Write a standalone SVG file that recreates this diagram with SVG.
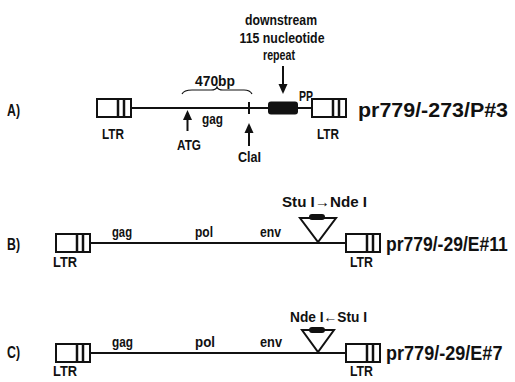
<svg xmlns="http://www.w3.org/2000/svg" width="515" height="382" viewBox="0 0 515 382">
<defs>
<style>
text{font-family:"Liberation Sans","DejaVu Sans",sans-serif;font-weight:bold;fill:#111}
.s{font-size:15px}
.m{font-size:16px}
.l{font-size:21px}
.ln{stroke:#111;stroke-width:2;fill:none}
.box{fill:#fff;stroke:#111;stroke-width:2}
.bar{stroke:#111;stroke-width:2.5}
.fill{fill:#111;stroke:none}
</style>
<g id="ltr">
<rect class="box" x="0" y="-9" width="34" height="18"/>
<line class="bar" x1="21" y1="-9" x2="21" y2="9"/>
<line class="bar" x1="27" y1="-9" x2="27" y2="9"/>
</g>
</defs>
<rect width="515" height="382" fill="#fff"/>

<g id="connectors">
<line class="ln" x1="132" y1="108" x2="312" y2="108"/>
<line class="ln" x1="90" y1="243" x2="346" y2="243"/>
<line class="ln" x1="90" y1="353" x2="346" y2="353"/>
</g>

<g id="rowA">
<text class="m" x="7" y="116" textLength="13" lengthAdjust="spacingAndGlyphs">A)</text>
<g id="A-ltr-left"><use href="#ltr" x="97" y="108"/><text class="s" x="102" y="139" textLength="22" lengthAdjust="spacingAndGlyphs">LTR</text></g>
<g id="A-ltr-right"><use href="#ltr" x="312" y="108"/><text class="s" x="317" y="139" textLength="22" lengthAdjust="spacingAndGlyphs">LTR</text></g>
<g id="A-470bp">
<text class="s" x="195" y="86" textLength="40" lengthAdjust="spacingAndGlyphs">470bp</text>
<path d="M182,94 Q184,90 192,90 L211,90 Q216,90 217,87 Q218,90 223,90 L244,90 Q250,90 252,94" fill="none" stroke="#111" stroke-width="1.2"/>
</g>
<text class="s" x="202" y="124" textLength="21" lengthAdjust="spacingAndGlyphs">gag</text>
<g id="A-ATG">
<line class="ln" x1="187.5" y1="118" x2="187.5" y2="131" stroke-width="2.5"/>
<path class="fill" d="M187.5,110 L183,120 L192,120 Z"/>
<text class="s" x="177" y="150" textLength="24" lengthAdjust="spacingAndGlyphs">ATG</text>
</g>
<g id="A-ClaI">
<line class="ln" x1="249" y1="102" x2="249" y2="114" stroke-width="2.5"/>
<line class="ln" x1="249" y1="130" x2="249" y2="146" stroke-width="2.5"/>
<path class="fill" d="M249,123 L244.5,133 L253.5,133 Z"/>
<text class="s" x="238" y="162" textLength="23" lengthAdjust="spacingAndGlyphs">ClaI</text>
</g>
<g id="A-repeat">
<rect class="fill" x="268" y="101.5" width="30" height="13" rx="3"/>
<line class="ln" x1="283" y1="66" x2="283" y2="86" stroke-width="2.5"/>
<path class="fill" d="M283,94 L278.5,84 L287.5,84 Z"/>
<text class="s" x="281" y="25" text-anchor="middle" textLength="72" lengthAdjust="spacingAndGlyphs">downstream</text>
<text class="s" x="282" y="43" text-anchor="middle" textLength="85" lengthAdjust="spacingAndGlyphs">115 nucleotide</text>
<text class="s" x="279" y="60" text-anchor="middle" textLength="32" lengthAdjust="spacingAndGlyphs">repeat</text>
</g>
<text class="s" x="299" y="101" textLength="14" lengthAdjust="spacingAndGlyphs">PP</text>
<text class="l" x="358" y="117" textLength="150" lengthAdjust="spacingAndGlyphs">pr779/-273/P#3</text>
</g>

<g id="rowB">
<text class="m" x="7" y="250" textLength="13" lengthAdjust="spacingAndGlyphs">B)</text>
<g id="B-ltr-left"><use href="#ltr" x="56" y="243"/><text class="s" x="53" y="267" textLength="24" lengthAdjust="spacingAndGlyphs">LTR</text></g>
<g id="B-ltr-right"><use href="#ltr" x="346" y="243"/><text class="s" x="350" y="267" textLength="23" lengthAdjust="spacingAndGlyphs">LTR</text></g>
<text class="s" x="112" y="237" textLength="20" lengthAdjust="spacingAndGlyphs">gag</text>
<text class="s" x="195" y="237" textLength="18" lengthAdjust="spacingAndGlyphs">pol</text>
<text class="s" x="260" y="237" textLength="21" lengthAdjust="spacingAndGlyphs">env</text>
<g id="B-insert">
<path d="M300,218 L336,218 L318,242 Z" fill="#fff" stroke="#111" stroke-width="2"/>
<rect class="fill" x="309" y="214" width="16" height="6" rx="3"/>
<text class="s" x="282" y="207" textLength="85" lengthAdjust="spacingAndGlyphs">Stu I→Nde I</text>
</g>
<text class="l" transform="translate(386,251) scale(0.835,1)">pr779/-29/E#11</text>
</g>

<g id="rowC">
<text class="m" x="7" y="358" textLength="13" lengthAdjust="spacingAndGlyphs">C)</text>
<g id="C-ltr-left"><use href="#ltr" x="56" y="353"/><text class="s" x="53" y="376" textLength="24" lengthAdjust="spacingAndGlyphs">LTR</text></g>
<g id="C-ltr-right"><use href="#ltr" x="346" y="353"/><text class="s" x="350" y="376" textLength="23" lengthAdjust="spacingAndGlyphs">LTR</text></g>
<text class="s" x="112" y="347" textLength="21" lengthAdjust="spacingAndGlyphs">gag</text>
<text class="s" x="195" y="347" textLength="20" lengthAdjust="spacingAndGlyphs">pol</text>
<text class="s" x="260" y="347" textLength="22" lengthAdjust="spacingAndGlyphs">env</text>
<g id="C-insert">
<path d="M302,330 L334,330 L318,352 Z" fill="#fff" stroke="#111" stroke-width="2"/>
<rect class="fill" x="309" y="327" width="16" height="6" rx="3"/>
<text class="s" x="290" y="322" textLength="77" lengthAdjust="spacingAndGlyphs">Nde I←Stu I</text>
</g>
<text class="l" transform="translate(386,360) scale(0.86,1)">pr779/-29/E#7</text>
</g>
</svg>
